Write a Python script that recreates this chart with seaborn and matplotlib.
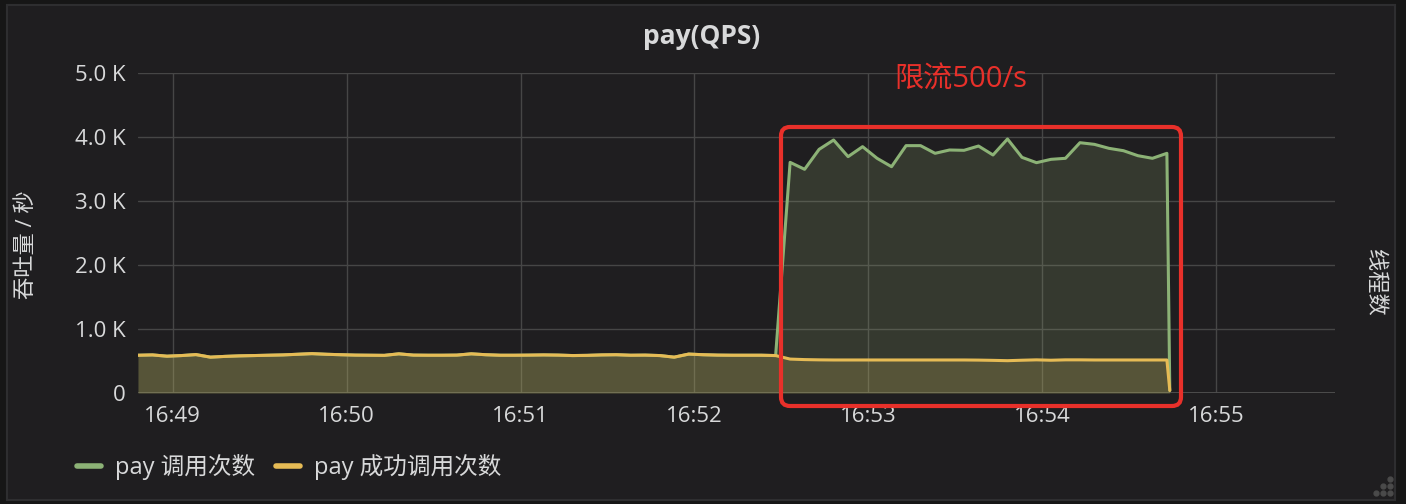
import matplotlib
matplotlib.use("Agg")
import matplotlib.pyplot as plt
import matplotlib.dates as mdates
from matplotlib.ticker import FuncFormatter
from matplotlib.patches import FancyBboxPatch
from matplotlib.lines import Line2D
import seaborn as sns
import pandas as pd

# data (5 s samples)
start_time = "2019-05-20 16:48:48"
end_time = "2019-05-20 16:55:41"
success_before = [590, 595, 575, 585, 600, 560, 572, 580, 585, 590, 595, 605, 615, 605, 598,
                  592, 590, 588, 612, 592, 590, 590, 592, 612, 598, 590, 590, 592, 595, 592,
                  585, 588, 595, 598, 590, 592, 585, 560, 608, 598, 592, 590, 590, 590, 585]
calls_after = [3604, 3495, 3807, 3953, 3693, 3849, 3667, 3536, 3865, 3865, 3745, 3797, 3792, 3859,
               3719, 3969, 3682, 3599, 3651, 3667, 3911, 3885, 3823, 3786, 3708, 3667, 3745]
success_after = [530, 522, 518, 516, 516, 516, 516, 516, 516, 516, 516, 516, 516, 514,
                 510, 505, 512, 518, 512, 518, 518, 516, 516, 516, 516, 516, 516]
drop_value = 40
series_names = ["pay 调用次数", "pay 成功调用次数"]
y_ticks = [0, 1000, 2000, 3000, 4000, 5000]

times = list(pd.date_range(start_time, periods=len(success_before) + len(calls_after), freq="5s"))
times.append(times[-1] + pd.Timedelta(seconds=1))
df = pd.DataFrame({
    "time": times,
    "calls": success_before + calls_after + [drop_value],
    "success": success_before + success_after + [drop_value],
})

bg = "#1f1e20"
text_color = "#d8d9da"
green = "#8cb276"
yellow = "#e6bb55"
red = "#e8302a"

sns.set_theme(style="dark", rc={
    "axes.facecolor": bg,
    "figure.facecolor": "#161616",
    "text.color": text_color,
    "axes.labelcolor": text_color,
    "xtick.color": text_color,
    "ytick.color": text_color,
})
plt.rcParams["font.family"] = ["Open Sans", "Noto Sans CJK SC", "DejaVu Sans"]

W, H = 1406, 504
fig = plt.figure(figsize=(W / 100, H / 100), dpi=100)

# panel background with border
panel = FancyBboxPatch((7 / W, 4 / H), 1388 / W, 495 / H, boxstyle="square,pad=0",
                       transform=fig.transFigure, facecolor=bg, edgecolor="#2e2e30", lw=1.5,
                       zorder=-10)
fig.patches.append(panel)

ax = fig.add_axes([138 / W, 1 - 393 / H, (1335 - 138) / W, (393 - 73) / H])
ax.set_facecolor(bg)

sns.lineplot(data=df, x="time", y="calls", color=green, linewidth=2.2, ax=ax, zorder=3)
sns.lineplot(data=df, x="time", y="success", color=yellow, linewidth=2.2, ax=ax, zorder=4)
ax.fill_between(df["time"], df["calls"], color="#92aa70", alpha=0.2, lw=0, zorder=2)
ax.fill_between(df["time"], df["success"], color="#dbc15d", alpha=0.2, lw=0, zorder=2)

ax.set_xlim(pd.Timestamp(start_time), pd.Timestamp(end_time))
ax.set_ylim(0, 5000)
ax.set_yticks(y_ticks)
ax.yaxis.set_major_formatter(FuncFormatter(lambda v, p: "0" if v == 0 else "%.1f K" % (v / 1000)))
ax.xaxis.set_major_locator(mdates.MinuteLocator())
ax.xaxis.set_major_formatter(mdates.DateFormatter("%H:%M"))
ax.tick_params(axis="both", length=0, labelsize=16)
ax.tick_params(axis="y", pad=9)
ax.tick_params(axis="x", pad=9)
ax.grid(True, color="#464646", lw=1)
ax.axhline(0, color="#505050", lw=2, zorder=1)
for s in ax.spines.values():
    s.set_visible(False)
ax.set_xlabel("")
ax.set_ylabel("")

# titles and axis labels
fig.text(702 / W, 1 - 37 / H, "pay(QPS)", ha="center", va="center", fontsize=19, weight="bold")
fig.text(27 / W, 1 - 245 / H, "吞吐量 / 秒", ha="center", va="center", rotation=90, fontsize=16)
fig.text(1374 / W, 1 - 282 / H, "线程数", ha="center", va="center", rotation=270, fontsize=16)

# legend
handles = [Line2D([], [], color=green, lw=4, solid_capstyle="round"),
           Line2D([], [], color=yellow, lw=4, solid_capstyle="round")]
fig.legend(handles, series_names, loc="center left", bbox_to_anchor=(77 / W, 1 - 467 / H),
           ncol=2, frameon=False, fontsize=17, handlelength=1.0, handletextpad=0.6,
           columnspacing=0.9, borderpad=0, borderaxespad=0, labelcolor=text_color)

# rate-limit annotation
box = FancyBboxPatch((7.81, 0.98), 4.0, 2.79, boxstyle="round,pad=0,rounding_size=0.09",
                     transform=fig.dpi_scale_trans, facecolor="none", edgecolor=red, lw=3,
                     zorder=5)
fig.patches.append(box)
fig.text(961 / W, 1 - 80 / H, "限流500/s", ha="center", va="center", fontsize=21, color=red)

# resize grip dots
for gx, gy in [(1390, 479), (1383, 486), (1390, 486), (1376, 493), (1383, 493), (1390, 493)]:
    fig.add_artist(Line2D([gx / W], [1 - gy / H], marker="o", markersize=3.5, lw=0,
                          color="#4a4a4a", transform=fig.transFigure))

fig.savefig("out.png", dpi=100, facecolor=fig.get_facecolor())
